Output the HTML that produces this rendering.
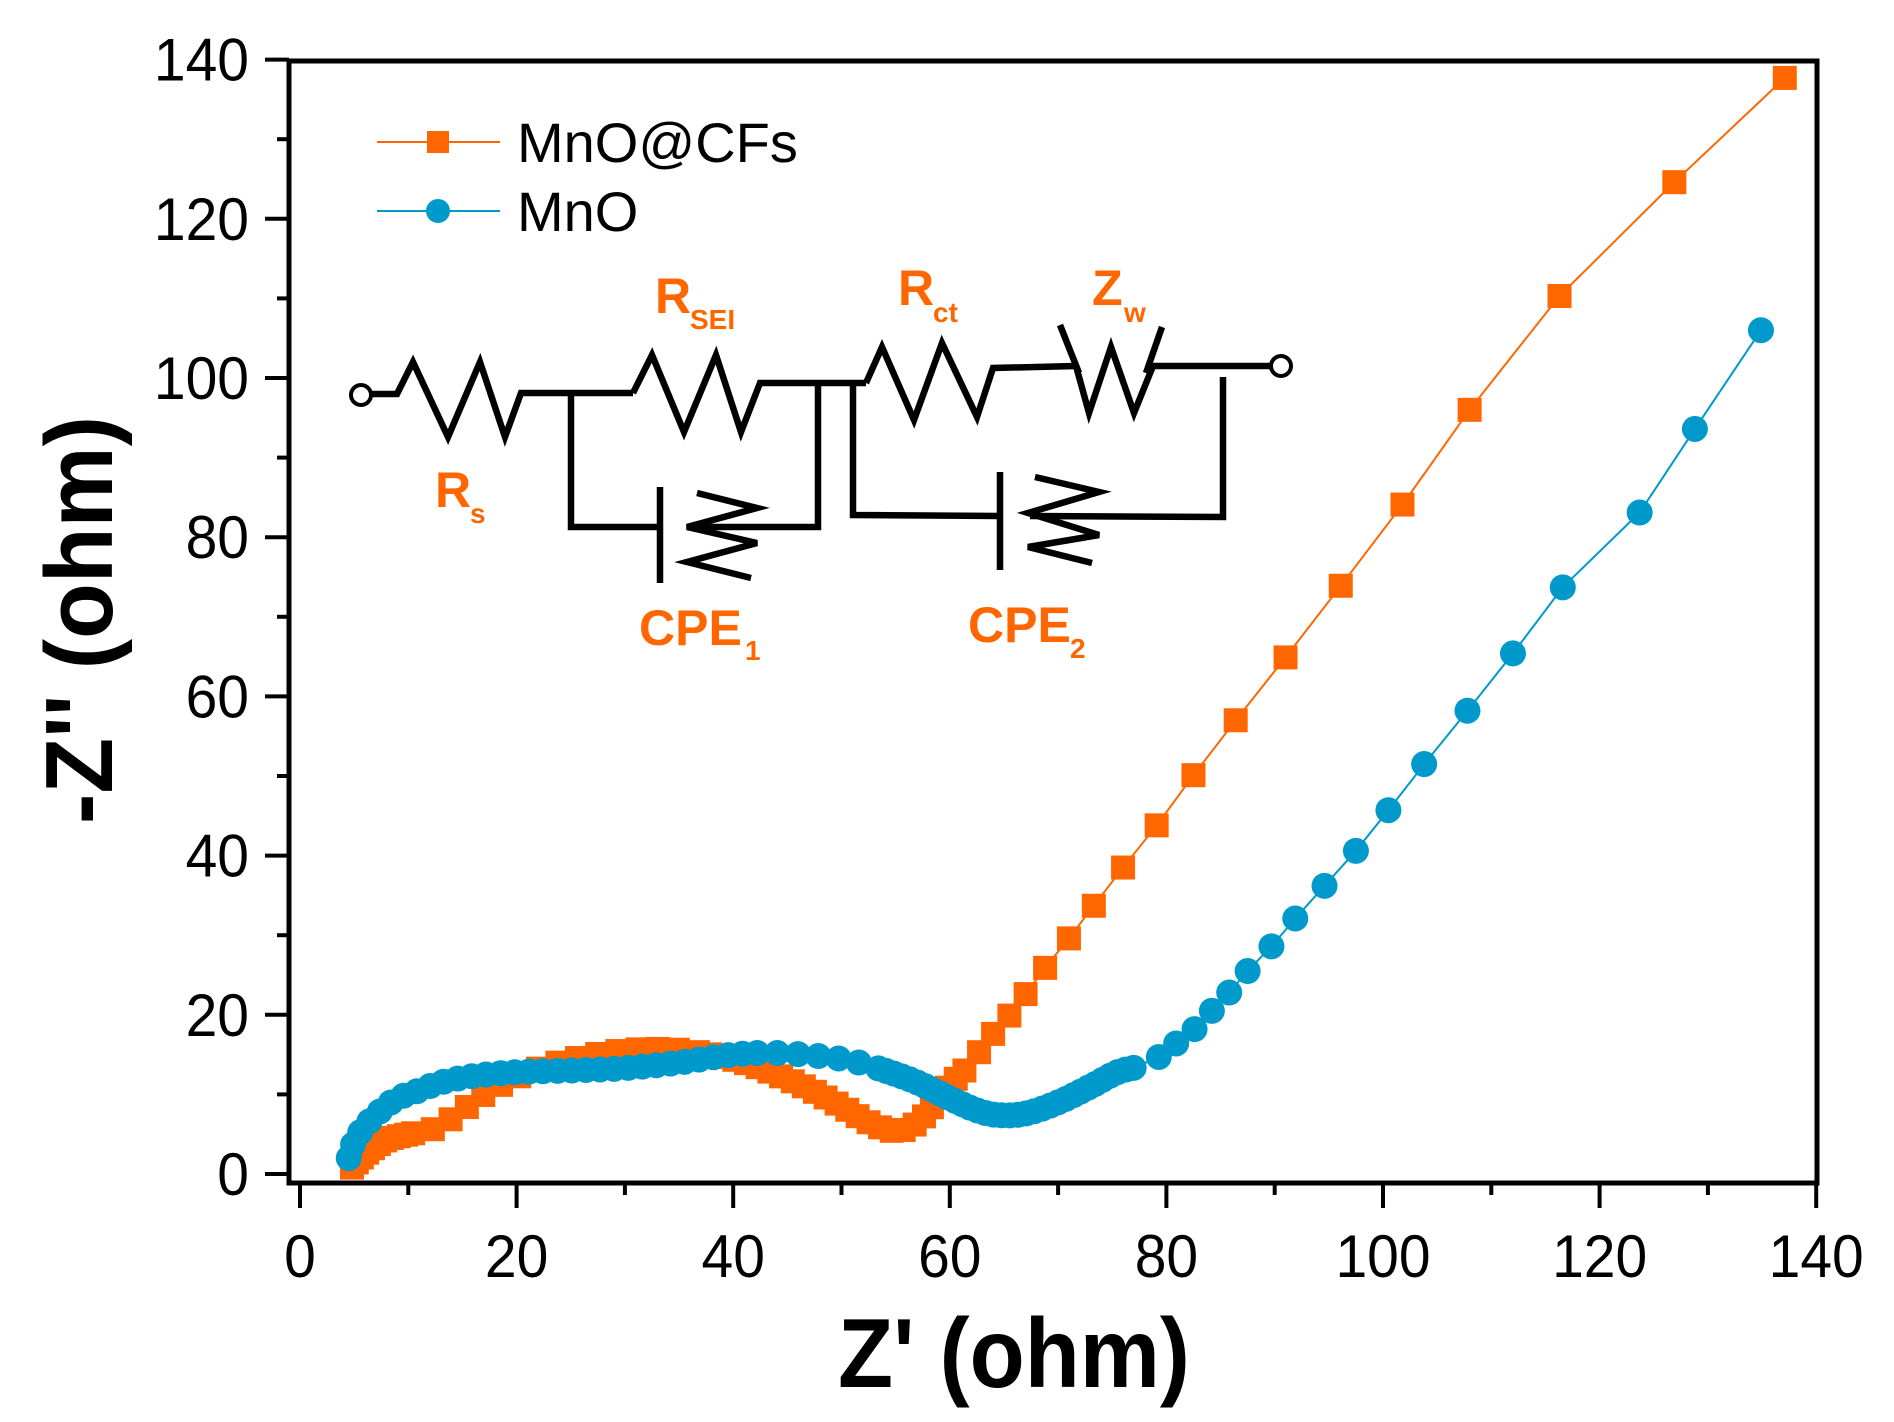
<!DOCTYPE html>
<html><head><meta charset="utf-8"><style>
html,body{margin:0;padding:0;background:#fff;}
svg{display:block;}
text{font-family:"Liberation Sans",sans-serif;}
</style></head><body>
<svg id="s" width="1894" height="1422" viewBox="0 0 1894 1422" xmlns="http://www.w3.org/2000/svg">
<g id="ticks" stroke="#000" stroke-width="4"></g>
<rect x="289" y="61" width="1528" height="1122" fill="none" stroke="#000" stroke-width="5"/>
<g id="labels" font-size="60" fill="#000"></g>
<text transform="translate(1014,1387) scale(0.92,1)" font-size="98" font-weight="bold" text-anchor="middle">Z' (ohm)</text>
<text transform="translate(112,620) rotate(-90) scale(0.95,1)" font-size="96" font-weight="bold" text-anchor="middle">-Z'' (ohm)</text>
<!-- legend -->
<line x1="377" y1="142" x2="500" y2="142" stroke="#ff6600" stroke-width="2"/>
<rect x="427" y="131" width="22" height="22" fill="#ff6600"/>
<text x="517" y="162" font-size="56">MnO@CFs</text>
<line x1="377" y1="211" x2="500" y2="211" stroke="#0099cc" stroke-width="2"/>
<circle cx="438" cy="211" r="12" fill="#0099cc"/>
<text x="517" y="231" font-size="56">MnO</text>
<!-- circuit -->
<g fill="none" stroke="#000" stroke-width="6.5" stroke-linejoin="miter">
<circle cx="361" cy="395" r="10" stroke-width="4"/>
<polyline points="371,394 397,394 413,362 448,437 480,362 505,437 521,393 633,393"/>
<polyline points="633,393 652,355 684,432 716,355 741,432 760,383 866,383"/>
<polyline points="866,383 882,347 914,420 942,343 977,417 993,368 1076,366"/>
<polyline points="1076,366 1089,413 1111,347 1134,413 1153,366 1271,366"/>
<line x1="1060" y1="325" x2="1079" y2="373"/>
<line x1="1162" y1="327" x2="1146" y2="373"/>
<circle cx="1281" cy="366" r="10" stroke-width="4"/>
<polyline points="571,393 571,527 660,527"/>
<polyline points="687,527 818,527 818,383"/>
<line x1="660" y1="487" x2="660" y2="583"/>
<polyline points="697,493 757,508 687,527 757,543 687,562 751,578"/>
<polyline points="853,383 853,515 1000,516"/>
<polyline points="1030,516 1223,517 1223,377"/>
<line x1="1000" y1="472" x2="1000" y2="570"/>
<polyline points="1035,477 1099,492 1028,513 1099,535 1028,547 1092,563"/>
</g>
<g fill="#ff6600" font-weight="bold">
<text x="655" y="313" font-size="50">R</text><text x="690" y="329" font-size="28">SEI</text>
<text x="898" y="305" font-size="50">R</text><text x="933" y="322" font-size="28">ct</text>
<text x="1092" y="305" font-size="50">Z</text><text x="1124" y="322" font-size="28">w</text>
<text x="435" y="507" font-size="50">R</text><text x="470" y="523" font-size="28">s</text>
<text x="639" y="645" font-size="50">CPE</text><text x="745" y="660" font-size="28">1</text>
<text x="968" y="642" font-size="50">CPE</text><text x="1070" y="658" font-size="28">2</text>
</g>
<g id="data"></g>
</svg>
<script>
var NS="http://www.w3.org/2000/svg";
function el(p,n,a){var e=document.createElementNS(NS,n);for(var k in a)e.setAttribute(k,a[k]);p.appendChild(e);return e;}
function X(v){return 300+v*10.83;}function Y(v){return 1174-v*7.96;}
var tk=document.getElementById('ticks'),lb=document.getElementById('labels');
for(var i=0;i<=14;i++){var y=Y(i*10),maj=i%2==0;
 el(tk,'line',{x1:289-(maj?24:12),y1:y,x2:289,y2:y});
 var x=X(i*10);el(tk,'line',{x1:x,y1:1183,x2:x,y2:1183+(maj?25:12)});
 if(maj){var t=el(lb,'text',{transform:'translate(249,'+(y+21)+') scale(0.95,1)','text-anchor':'end'});t.textContent=i*10;
 var t2=el(lb,'text',{transform:'translate('+x+',1277) scale(0.95,1)','text-anchor':'middle'});t2.textContent=i*10;}}
function spline(pts){var out=[];for(var i=0;i<pts.length-1;i++){var p0=pts[Math.max(i-1,0)],p1=pts[i],p2=pts[i+1],p3=pts[Math.min(i+2,pts.length-1)];
 for(var t=0;t<1;t+=0.02){var t2=t*t,t3=t2*t;
 out.push([0.5*((2*p1[0])+(-p0[0]+p2[0])*t+(2*p0[0]-5*p1[0]+4*p2[0]-p3[0])*t2+(-p0[0]+3*p1[0]-3*p2[0]+p3[0])*t3),
 0.5*((2*p1[1])+(-p0[1]+p2[1])*t+(2*p0[1]-5*p1[1]+4*p2[1]-p3[1])*t2+(-p0[1]+3*p1[1]-3*p2[1]+p3[1])*t3)]);}}
 out.push(pts[pts.length-1]);return out;}
function sample(dpts,spf){var px=dpts.map(function(p){return [X(p[0]),Y(p[1])]});var s=spline(px);var res=[s[0]],acc=0;
 for(var i=1;i<s.length;i++){var d=Math.hypot(s[i][0]-s[i-1][0],s[i][1]-s[i-1][1]);acc+=d;var sp=spf(s[i][0]);if(acc>=sp){res.push(s[i]);acc=0;}}return res;}
var g=document.getElementById('data');
function series(dense,spf,sparse,col,sq){var pts=sample(dense,spf);sparse.forEach(function(p){pts.push([X(p[0]),Y(p[1])]);});
 el(g,'polyline',{points:pts.map(function(p){return p[0].toFixed(1)+','+p[1].toFixed(1)}).join(' '),fill:'none',stroke:col,'stroke-width':2});
 pts.forEach(function(p){if(sq)el(g,'rect',{x:p[0]-12,y:p[1]-12,width:24,height:24,fill:col});else el(g,'circle',{cx:p[0],cy:p[1],r:13,fill:col});});}
var oD=[[4.8,0.8],[5.5,1.8],[6.5,3],[8,4.3],[10,5],[12,5.5],[13.5,6.5],[15,8],[17,10],[19,11.5],[21,12.7],[23,13.7],[26,14.7],[29,15.4],[32,15.7],[35,15.6],[38,15],[41,14],[44,12.5],[47,10.7],[50,8.5],[52.5,6.5],[54.8,5.4],[56.5,6],[58,7.8],[59.5,10.5],[61.5,13.2]];
var oS=[[62.7,15.3],[64,17.6],[65.5,19.9],[67,22.6],[68.8,25.9],[71,29.6],[73.3,33.7],[76,38.5],[79.1,43.8],[82.5,50.1],[86.4,57],[91,64.9],[96.1,73.9],[101.8,84.1],[108,96],[116.3,110.3],[126.9,124.6],[137.1,137.7]];
series(oD,function(x){return x<420?7:(x<700?20:12);},oS,'#ff6600',true);
var bD=[[4.5,2],[5,4],[6,6],[7.5,8],[9,9.5],[11,10.5],[13,11.5],[16,12.3],[20,12.8],[25,13],[30,13.3],[35,14],[40,15],[44,15.2],[48,14.8],[51,14.2],[54,13],[57,11.5],[60,9.5],[62.5,8],[64.5,7.4],[67,7.6],[70,9],[73,11],[75.5,12.8],[77.6,13.5]];
var bS=[[79.3,14.7],[80.9,16.4],[82.6,18.2],[84.2,20.5],[85.8,22.8],[87.5,25.5],[89.7,28.6],[91.9,32.1],[94.6,36.2],[97.5,40.6],[100.5,45.7],[103.8,51.5],[107.8,58.2],[112,65.4],[116.6,73.7],[123.7,83.1],[128.8,93.6],[134.9,106]];
series(bD,function(x){return x<760?14:(x<880?20:8);},bS,'#0099cc',false);
</script>
</body></html>
